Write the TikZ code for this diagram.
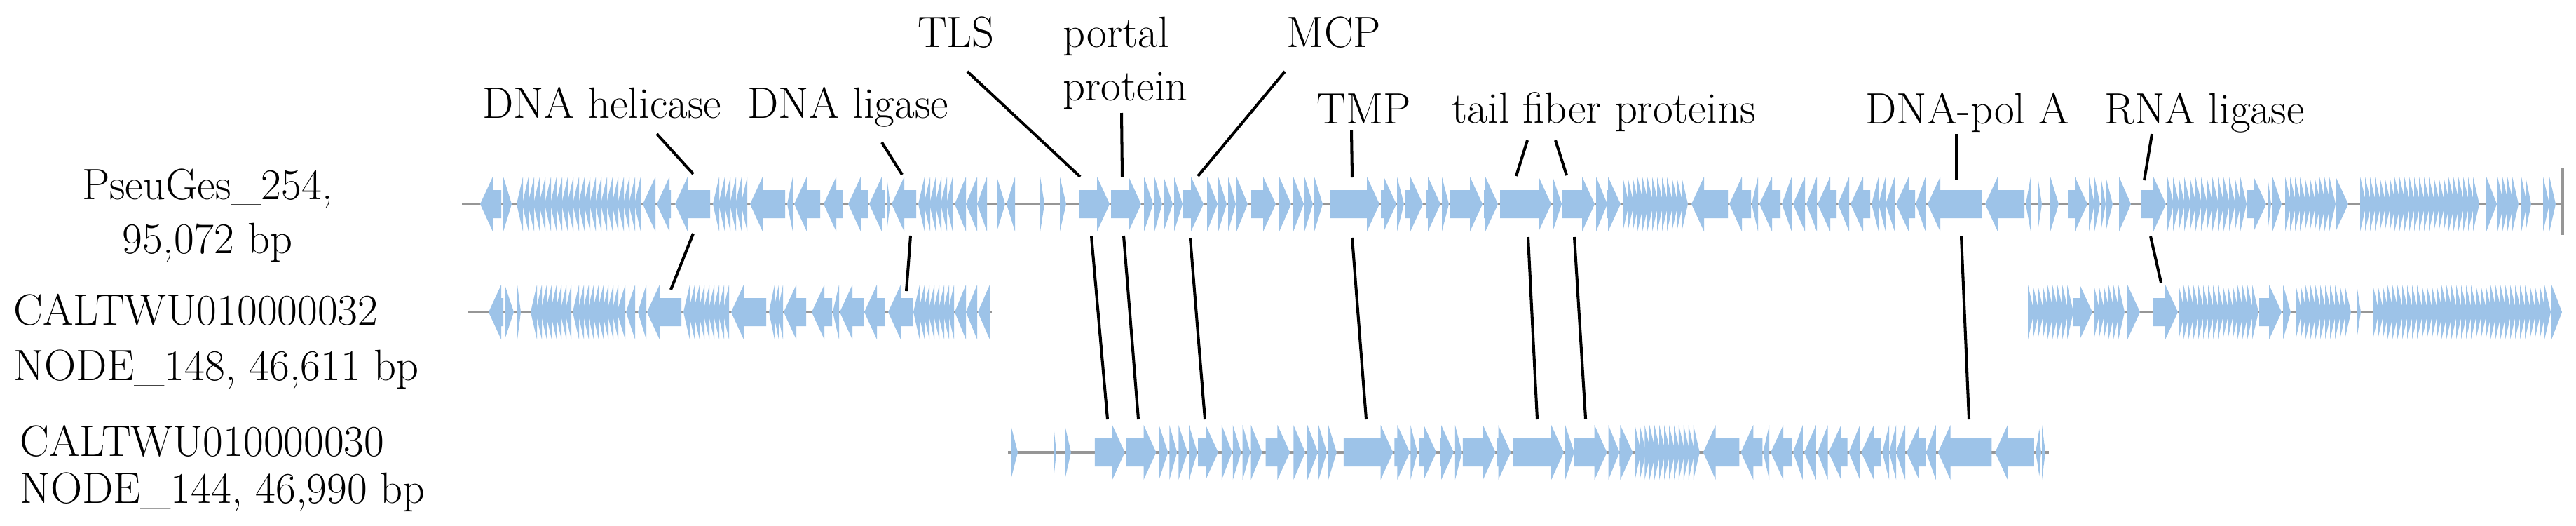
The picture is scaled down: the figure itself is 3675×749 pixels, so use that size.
\documentclass[tikz,border=0pt]{standalone}
\usepackage{fontspec}
\definecolor{genec}{RGB}{157,195,232}
\definecolor{bbc}{RGB}{150,150,150}
\newcommand\geneR[3]{%
  \pgfmathsetmacro\gh{min(18,(#3)-(#2))}%
  \fill[genec] (#2,#1-20) -- ({#3-\gh},#1-20) -- ({#3-\gh},#1-39) -- (#3,#1) -- ({#3-\gh},#1+39) -- ({#3-\gh},#1+20) -- (#2,#1+20) -- cycle;}
\newcommand\geneL[3]{%
  \pgfmathsetmacro\gh{min(18,(#3)-(#2))}%
  \fill[genec] (#3,#1-20) -- ({#2+\gh},#1-20) -- ({#2+\gh},#1-39) -- (#2,#1) -- ({#2+\gh},#1+39) -- ({#2+\gh},#1+20) -- (#3,#1+20) -- cycle;}
\def\midR{1540/1583,1585/1628,1632/1645,1647/1658,1660/1673,1675/1687,1688/1717,1722/1737,1738/1750,1752/1763,1764/1780,1785/1820,1825/1842,1845/1860,1861/1873,1875/1887,1897/1968,1970/1992,1993/2003,2005/2030,2035/2055,2057/2067,2068/2115,2117/2137,2140/2213,2215/2228,2228/2275,2277/2293,2293/2312}
\def\midL{2413/2465,2467/2498,2499/2508,2510/2540,2542/2556,2558/2575,2577/2592,2593/2620,2622/2638,2640/2668,2670/2680,2680/2690,2690/2703,2705/2732,2733/2747,2750/2827,2832/2888,2890/2897}
\newcommand\midsection[1]{%
  \foreach \a/\b in \midR {\geneR{#1}{\a}{\b}}%
  \foreach \x in {2315,2322,...,2405} {\geneR{#1}{\x}{\x+9}}%
  \foreach \a/\b in \midL {\geneL{#1}{\a}{\b}}%
}
\begin{document}
\begin{tikzpicture}[x=0.1mm,y=-0.1mm,
  lbl/.style={inner sep=0pt, font=\fontsize{17.8}{21}\selectfont},
  leader/.style={line width=1.15pt, black},
  backbone/.style={line width=0.9pt, bbc}]
\useasboundingbox (0,0) rectangle (3675,749);
\fill[white] (0,0) rectangle (3675,749);

% ---------- backbones ----------
\coordinate (t1s) at (659,291);  \coordinate (t1e) at (3656,291);
\coordinate (t2as) at (668,445); \coordinate (t2ae) at (1415,445);
\coordinate (t2bs) at (2893,445); \coordinate (t2be) at (3655,445);
\coordinate (t3s) at (1438,645); \coordinate (t3e) at (2923,645);
\draw[backbone] (t1s) -- (t1e);
\draw[backbone] ([yshift=5.1mm]t1e) -- ([yshift=-4.4mm]t1e);
\draw[backbone] (t2as) -- (t2ae);
\draw[backbone] (t2bs) -- (t2be);
\draw[backbone] (t3s) -- (t3e);

% ---------- track 1 ----------
\foreach \a/\b in {685/715,917/935,937/957,963/1013,1070/1120,1123/1131,1133/1170,1175/1202,1210/1238,1240/1262,1272/1307,1362/1378,1378/1394,1394/1408,1436/1448}
  {\geneL{291}{\a}{\b}}
\foreach \a/\b in {718/730,1265/1270,1422/1434,1484/1490,1512/1521}
  {\geneR{291}{\a}{\b}}
\foreach \x in {737,745,...,905} {\geneL{291}{\x}{\x+9}}
\foreach \x in {1017,1025,...,1058} {\geneL{291}{\x}{\x+9}}
\foreach \x in {1310,1318,...,1354} {\geneL{291}{\x}{\x+9}}
\midsection{291}
\foreach \a/\b in {2907/2913,2925/2937,2950/2978,2980/2988,2988/2996,2997/3004,3004/3014,3023/3040,3055/3090,3205/3233,3235/3240,3242/3255,3332/3350,3547/3562,3628/3637,3637/3646}
  {\geneR{291}{\a}{\b}}
\foreach \x in {3092,3100,...,3196} {\geneR{291}{\x}{\x+9}}
\foreach \x in {3260,3267,...,3325} {\geneR{291}{\x}{\x+9}}
\foreach \x in {3367,3374,...,3533} {\geneR{291}{\x}{\x+9}}
\foreach \x in {3563,3570,...,3588} {\geneR{291}{\x}{\x+9}}
\foreach \x in {3597,3603} {\geneR{291}{\x}{\x+8}}

% ---------- track 2 ----------
\foreach \a/\b in {697/718,880/892,893/906,910/922,923/972,1043/1093,1118/1150,1158/1187,1188/1197,1198/1232,1233/1262,1267/1302,1362/1378,1378/1394,1395/1412}
  {\geneL{445}{\a}{\b}}
\foreach \a/\b in {720/733,738/743}
  {\geneR{445}{\a}{\b}}
\foreach \x in {757,764,...,806} {\geneL{445}{\x}{\x+9}}
\foreach \x in {817,824,...,873} {\geneL{445}{\x}{\x+9}}
\foreach \x in {975,982,...,1033} {\geneL{445}{\x}{\x+9}}
\foreach \x in {1097,1103,1109} {\geneL{445}{\x}{\x+8}}
\foreach \x in {1303,1310,...,1352} {\geneL{445}{\x}{\x+9}}
\foreach \a/\b in {2958/2985,3035/3053,3072/3107,3223/3255,3257/3268,3362/3368,3640/3655}
  {\geneR{445}{\a}{\b}}
\foreach \x in {2893,2900,...,2949} {\geneR{445}{\x}{\x+9}}
\foreach \x in {2987,2994,...,3028} {\geneR{445}{\x}{\x+9}}
\foreach \x in {3108,3115,...,3213} {\geneR{445}{\x}{\x+9}}
\foreach \x in {3275,3282,...,3345} {\geneR{445}{\x}{\x+9}}
\foreach \x in {3385,3392,...,3630} {\geneR{445}{\x}{\x+9}}

% ---------- track 3 ----------
\foreach \a/\b in {1442/1452,1503/1507,1519/1528,2907/2912,2913/2918}
  {\geneR{645}{\a}{\b}}
\begin{scope}[shift={(31.2,0)}, xscale=0.994]
\midsection{645}
\end{scope}

% ---------- labels ----------
\node[lbl, anchor=base] (g1a) at (296,284) {PseuGes\_254,};
\node[lbl, anchor=base] (g1b) at (296,361) {95,072 bp};
\node[lbl, anchor=base west] (g2a) at (19,463) {CALTWU010000032};
\node[lbl, anchor=base west] (g2b) at (19,542) {NODE\_148, 46,611 bp};
\node[lbl, anchor=base west] (g3a) at (28,650) {CALTWU010000030};
\node[lbl, anchor=base west] (g3b) at (28,717) {NODE\_144, 46,990 bp};

\node[lbl, anchor=base west] (hel) at (688,168) {DNA helicase};
\node[lbl, anchor=base west] (lig) at (1066,168) {DNA ligase};
\node[lbl, anchor=base] (tls) at (1364,67) {TLS};
\node[lbl, anchor=base west] (por) at (1516,67) {portal};
\node[lbl, anchor=base west] (pro) at (1516,143) {protein};
\node[lbl, anchor=base] (mcp) at (1903,67) {MCP};
\node[lbl, anchor=base] (tmp) at (1946,176) {TMP};
\node[lbl, anchor=base west] (tfp) at (2071,175) {tail fiber proteins};
\node[lbl, anchor=base west] (pol) at (2661,176) {DNA-pol A};
\node[lbl, anchor=base west] (rli) at (3002,176) {RNA ligase};

% ---------- leader lines ----------
\foreach \n/\ax/\ay/\bx/\by in {
  helU/937/191/989/248, helD/989/333/957/413,
  ligU/1258/203/1287/249, ligD/1299/336/1293/415,
  tlsU/1380/102/1541/252, tlsD/1557/337/1580/598,
  porU/1600/161/1601/252, porD/1603/336/1624/598,
  mcpU/1833/102/1709/251, mcpD/1698/340/1719/598,
  tmpU/1928/186/1929/253, tmpD/1929/339/1949/598,
  tfaU/2179/200/2163/251, tfaD/2180/338/2193/598,
  tfbU/2219/200/2235/250, tfbD/2246/338/2262/597,
  polU/2791/191/2791/257, polD/2798/337/2809/598,
  rliU/3070/191/3059/257, rliD/3068/337/3083/403}
{
  \coordinate (\n-a) at (\ax,\ay);
  \coordinate (\n-b) at (\bx,\by);
  \draw[leader] (\n-a) -- (\n-b);
}
\end{tikzpicture}
\end{document}
